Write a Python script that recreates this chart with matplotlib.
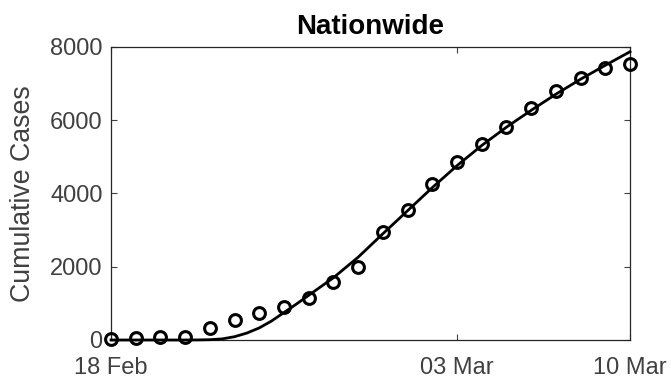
import pandas as pd
import matplotlib
matplotlib.use("Agg")
import matplotlib.pyplot as plt

plt.rcParams["font.family"] = ["Liberation Sans", "DejaVu Sans"]

start = pd.Timestamp("2020-02-18")

# observed cumulative cases, one per day from 18 Feb
obs_day = list(range(22))
obs_cases = [30, 45, 75, 95, 330, 545, 750, 890, 1150, 1593, 2003, 2950, 3549, 4250,
             4851, 5342, 5824, 6325, 6798, 7161, 7417, 7535]

# fitted model curve (day offset, cases)
fit_day = [0, 1, 2, 3, 3.5, 4, 4.5, 5, 5.5, 6, 6.5, 7, 7.5, 8, 9, 10, 11, 12, 13,
           14, 15, 16, 17, 18, 19, 20, 21]
fit_cases = [0, 0, 0, 0, 2, 8, 30, 90, 190, 330, 520, 750, 980, 1220, 1700, 2260,
             2900, 3530, 4160, 4760, 5310, 5810, 6270, 6710, 7120, 7500, 7870]

xtick_dates = ["2020-02-18", "2020-03-03", "2020-03-10"]
xtick_labels = ["18 Feb", "03 Mar", "10 Mar"]
yticks = [0, 2000, 4000, 6000, 8000]

obs_t = start + pd.to_timedelta(obs_day, unit="D")
fit_t = start + pd.to_timedelta(fit_day, unit="D")

fig = plt.figure(figsize=(6.71, 3.85), dpi=100)
ax = fig.add_axes([0.1654, 0.1169, 0.7735, 0.7611])

grey = "#404040"
ax.plot(fit_t, fit_cases, color="black", lw=2.0, clip_on=False, zorder=3)
ax.plot(obs_t, obs_cases, "o", mfc="none", mec="black", ms=8.5, mew=2.2,
        clip_on=False, zorder=4)

ax.set_xlim(start, pd.Timestamp("2020-03-10"))
ax.set_ylim(0, 8000)
ax.set_xticks(pd.to_datetime(xtick_dates))
ax.set_xticklabels(xtick_labels)
ax.set_yticks(yticks)
ax.tick_params(direction="in", length=4, width=0.8, top=True, right=True,
               labelsize=17, colors=grey)
ax.tick_params(axis="x", pad=12)
ax.tick_params(axis="y", pad=6)
for s in ax.spines.values():
    s.set_color("#262626")
    s.set_linewidth(0.9)

ax.set_ylabel("Cumulative Cases", fontsize=19.3, color=grey, labelpad=10)
ax.set_title("Nationwide", fontsize=20, fontweight="bold", pad=9)

fig.savefig("out.png", dpi=100)
